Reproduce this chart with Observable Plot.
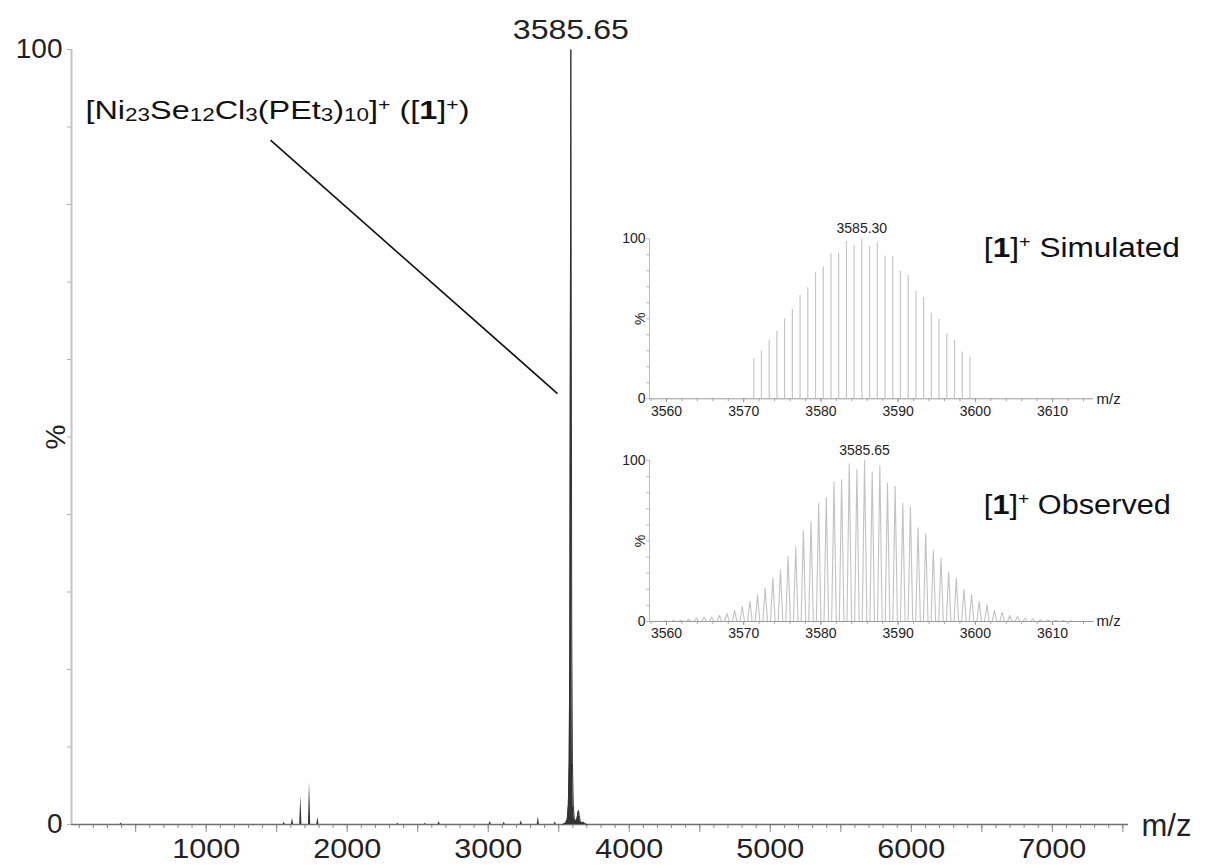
<!DOCTYPE html>
<html>
<head>
<meta charset="utf-8">
<script src="https://cdn.jsdelivr.net/npm/d3@7"></script>
<script src="https://cdn.jsdelivr.net/npm/@observablehq/plot@0.6"></script>
<style>
  body { margin: 0; background: #fff; }
  #wrap { position: relative; width: 1217px; height: 865px; overflow: hidden; background: #fff; }
  #wrap > svg, #wrap > figure { position: absolute; margin: 0; }
</style>
</head>
<body>
<div id="wrap"></div>
<script>
// ---------------- DATA ----------------
// Main spectrum: cluster profile around the [1]+ ion
const mainPeakMz  = [3530, 3548, 3560, 3568, 3574, 3579, 3582.5, 3585.65, 3589, 3592, 3597, 3603, 3610, 3620, 3630, 3636, 3640, 3645, 3652, 3662, 3675, 3685, 3700];
const mainPeakInt = [0,    0.2,  0.6,  2.5,  8,    25,   65,     100,     65,   25,   8,    2.5,  0.8,  0.4,  0.8,  1.5,  1.8,  1.2,  0.5,  0.2,  0.3,  0.1,  0];
// Main spectrum: minor peaks (m/z, %)
const minorMz  = [397, 1553, 1612, 1671, 1733, 1792, 2359, 2553, 2652, 3014, 3113, 3234, 3355, 3475, 3681];
const minorInt = [0.2, 0.3,  0.8,  3.6,  5.5,  0.9,  0.15, 0.15, 0.4,  0.4,  0.3,  0.5,  1.0,  0.35, 0.2];
const mainXTickLabels = [1000, 2000, 3000, 4000, 5000, 6000, 7000];
const mainYTickLabels = [0, 100];

// Inset: simulated isotope pattern (stick)
const simMz  = d3.range(29).map(i => 3571.3 + i); // isotope positions, 1 Da apart
const simInt = [25, 29.8, 36.5, 42, 50, 55.8, 64.6, 69.4, 78.8, 82.3, 90.6, 91, 98.3, 95.8, 100, 95.2, 97.3, 89.2, 89, 79.6, 77.1, 67.1, 63.5, 53.5, 49.6, 40.6, 36.5, 29.2, 26];
// Inset: observed isotope pattern
const obsMz  = d3.range(-27, 28).map(k => 3585.65 + k * 0.99);
const obsInt = [0.2, 0.4, 0.6, 0.8, 1.5, 2, 2.7, 2.7, 3.7, 5, 6.8, 9.3, 12.6, 16.6, 20.7, 27, 32, 40.4, 46, 56.5, 62, 73.5, 77.2, 86.5, 88, 98, 94.4, 100,
                92.8, 96.9, 85.9, 83.9, 73.5, 71.4, 58.2, 54.5, 44, 39.3, 30.6, 26.9, 20, 16.8, 12.4, 10.4, 6.8, 5.6, 3.7, 3.1, 2, 1.7, 1.2, 1, 0.8, 0.6, 0.4];
const insetXTickLabels = [3560, 3570, 3580, 3590, 3600, 3610];

// ---------------- helpers ----------------
const FONT = "'Liberation Sans', Arial, Helvetica, sans-serif";
const SVGNS = "http://www.w3.org/2000/svg";
function findText(svg, content) {
  return Array.from(svg.querySelectorAll("text")).filter(t => t.textContent === content);
}
function stretch(el, len) {
  el.setAttribute("textLength", len);
  el.setAttribute("lengthAdjust", "spacingAndGlyphs");
}
function rich(svg, placeholder, parts, len) {
  const el = findText(svg, placeholder)[0];
  if (!el) return;
  el.textContent = "";
  let shift = 0;
  for (const p of parts) {
    const t = document.createElementNS(SVGNS, "tspan");
    const target = p.sub ? p.sub : p.sup ? -p.sup : 0;
    if (target - shift !== 0) t.setAttribute("dy", target - shift);
    shift = target;
    if (p.size) t.setAttribute("font-size", p.size);
    if (p.bold) t.setAttribute("font-weight", "bold");
    t.textContent = p.t;
    el.appendChild(t);
  }
  if (len) stretch(el, len);
}
function place(node, left, top) {
  node.style.position = "absolute";
  node.style.left = left + "px";
  node.style.top = top + "px";
  document.getElementById("wrap").appendChild(node);
}

// ---------------- main chart ----------------
const mainProfile = mainPeakMz.map((mz, i) => ({mz, int: mainPeakInt[i]}));
const minorPeaks = minorMz.map((mz, i) => ({mz, int: minorInt[i]}));
const minorShapes = minorPeaks.flatMap((p, i) => [
  {id: i, mz: p.mz - 8, int: 0}, {id: i, mz: p.mz, int: p.int}, {id: i, mz: p.mz + 8, int: 0}
]);

const main = Plot.plot({
  width: 1217, height: 865,
  marginLeft: 71, marginRight: 89, marginTop: 49, marginBottom: 41,
  x: {domain: [45, 7540]},
  y: {domain: [0, 100]},
  style: {fontFamily: FONT, background: "transparent", overflow: "visible", color: "#222"},
  marks: [
    Plot.axisX({ticks: d3.range(100, 7501, 100), tickSize: 4, fill: "none", stroke: "#8a8a8a", label: null}),
    Plot.axisX({ticks: d3.range(500, 7501, 500), tickSize: 8, fill: "none", stroke: "#8a8a8a", label: null}),
    Plot.axisX({ticks: mainXTickLabels, tickSize: 0, tickPadding: 14, fontSize: 28, fill: "#222", label: null, tickFormat: d3.format("d")}),
    Plot.axisY({ticks: d3.range(0, 101, 10), tickSize: 4, fill: "none", stroke: "#b0b0b0", label: null}),
    Plot.axisY({ticks: mainYTickLabels, tickSize: 0, tickPadding: 9, fontSize: 28, fill: "#222", label: null, tickFormat: d3.format("d")}),
    Plot.ruleX([45], {stroke: "#c4c4c4", strokeWidth: 2}),
    Plot.areaY(minorShapes, {x: "mz", y: "int", z: "id", fill: "#333"}),
    Plot.ruleY([0], {stroke: "#707070", strokeWidth: 1.3}),
    Plot.areaY(mainProfile, {x: "mz", y: "int", fill: "#333"}),
    Plot.line(mainProfile, {x: "mz", y: "int", stroke: "#333", strokeWidth: 1}),
    Plot.link([0], {x1: 1456, y1: 88.3, x2: 3491, y2: 55.6, stroke: "#111", strokeWidth: 1.6}),
    Plot.text(["3585.65"], {x: 3585.65, y: 100, dy: -19, fontSize: 28, fill: "#222"}),
    Plot.text(["FORMULA"], {x: 144, y: 92.1, textAnchor: "start", fontSize: 26, fill: "#111"}),
    Plot.text(["%"], {x: -68, y: 50, rotate: -90, fontSize: 28, fill: "#222"}),
    Plot.text(["m/z"], {x: 7540, y: 0, dx: 13, dy: 2, textAnchor: "start", fontSize: 31, fill: "#222"})
  ]
});
rich(main, "FORMULA", [
  {t: "[Ni"}, {t: "23", size: 18, sub: 2}, {t: "Se"}, {t: "12", size: 18, sub: 2}, {t: "Cl"},
  {t: "3", size: 18, sub: 2}, {t: "(PEt"}, {t: "3", size: 18, sub: 2}, {t: ")"},
  {t: "10", size: 18, sub: 2}, {t: "]"}, {t: "+", size: 17, sup: 9}, {t: " (["},
  {t: "1", bold: true}, {t: "]"}, {t: "+", size: 17, sup: 9}, {t: ")"}
], 384);
findText(main, "3585.65").forEach(el => stretch(el, 116));
mainXTickLabels.forEach(v => findText(main, String(v)).forEach(el => stretch(el, 68)));
place(main, 0, 0);

// ---------------- insets ----------------
function inset({top, height, marginTop, marginBottom, title, peakLabel, marks}) {
  const svg = Plot.plot({
    width: 600, height,
    marginLeft: 49, marginRight: 107, marginTop, marginBottom,
    x: {domain: [3557.8, 3615.3]},
    y: {domain: [0, 100]},
    style: {fontFamily: FONT, background: "transparent", overflow: "visible", color: "#222"},
    marks: [
      Plot.axisX({ticks: d3.range(3558, 3615, 2), tickSize: 3, fill: "none", stroke: "#aaa", label: null}),
      Plot.axisX({ticks: insetXTickLabels, tickSize: 4, fill: "none", stroke: "#999", label: null}),
      Plot.axisX({ticks: insetXTickLabels, tickSize: 0, tickPadding: 7, fontSize: 14, fill: "#222", label: null, tickFormat: d3.format("d")}),
      Plot.axisY({ticks: d3.range(0, 101, 10), tickSize: 3, fill: "none", stroke: "#bbb", label: null}),
      Plot.axisY({ticks: [0, 100], tickSize: 0, tickPadding: 4, fontSize: 14, fill: "#222", label: null, tickFormat: d3.format("d")}),
      Plot.ruleX([3557.8], {stroke: "#bbb", strokeWidth: 1}),
      ...marks,
      Plot.ruleY([0], {stroke: "#999", strokeWidth: 1}),
      Plot.text([peakLabel], {x: peakLabel === "3585.30" ? 3585.3 : 3585.65, y: 100, dy: -10, fontSize: 14, fill: "#222"}),
      Plot.text(["%"], {x: 3557.8, y: 50, dx: -9, rotate: -90, fontSize: 14, fill: "#222"}),
      Plot.text(["m/z"], {x: 3615.3, y: 0, dx: 3, textAnchor: "start", fontSize: 15, fill: "#222"}),
      Plot.text(["TITLE"], {x: 3601.1, y: title.y, textAnchor: "start", fontSize: 27, fill: "#111"})
    ]
  });
  rich(svg, "TITLE", [{t: "["}, {t: "1", bold: true}, {t: "]"}, {t: "+", size: 17, sup: 10}, {t: " " + title.text}], title.len);
  place(svg, 600, top);
}

const simData = simMz.map((mz, i) => ({mz, int: simInt[i]}));
inset({
  top: 210, height: 210, marginTop: 28.3, marginBottom: 21.7,
  title: {text: "Simulated", y: 94, len: 196}, peakLabel: "3585.30",
  marks: [Plot.ruleX(simData, {x: "mz", y1: 0, y2: "int", stroke: "#c6c6c6", strokeWidth: 1.2})]
});

const obsShape = [{mz: 3557.8, int: 0}].concat(
  obsMz.flatMap((mz, i) => [{mz: mz - 0.3, int: 0}, {mz, int: obsInt[i]}, {mz: mz + 0.3, int: 0}]),
  [{mz: 3615.3, int: 0}]
);
inset({
  top: 430, height: 215, marginTop: 30, marginBottom: 24,
  title: {text: "Observed", y: 72, len: 187}, peakLabel: "3585.65",
  marks: [Plot.line(obsShape, {x: "mz", y: "int", stroke: "#c2c2c2", strokeWidth: 1.1})]
});
</script>
</body>
</html>
